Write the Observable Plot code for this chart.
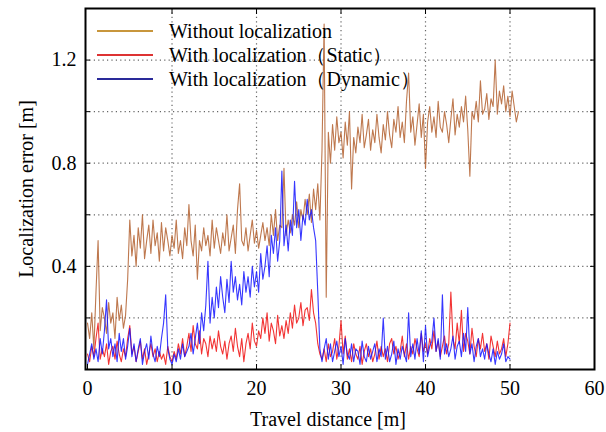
<!DOCTYPE html>
<html>
<head>
<meta charset="utf-8">
<script src="https://cdn.jsdelivr.net/npm/d3@7"></script>
<script src="https://cdn.jsdelivr.net/npm/@observablehq/plot@0.6"></script>
<style>
  html, body { margin: 0; padding: 0; background: #fff; }
  #wrap { position: relative; width: 606px; height: 432px; font-family: "Liberation Serif", "Times New Roman", serif; }
  #legend { position: absolute; left: 97px; top: 19px; font-size: 20px; color: #000; line-height: 24px; }
  #legend .row { display: flex; align-items: center; height: 24px; white-space: nowrap; }
  #legend .sw { width: 56px; height: 2px; margin-right: 16px; }
</style>
</head>
<body>
<div id="wrap"><div id="legend"></div></div>
<script>
// ---- data (step 0.25 m) ----
const step = 0.25;
const seriesNames = ["Without localization", "With localization（Static）", "With localization（Dynamic）"];
const lineColors = ["#b3602f", "#f01010", "#1414ff"];
const legendColors = ["#c8963c", "#dd3333", "#2a2a99"];

const withoutLoc = [
  .18,.12,.22,.08, .30,.50,.15,.24, .20,.14,.26,.18, .22,.12,.28,.19, .25,.16,.21,.35,
  .58,.44,.52,.40, .55,.47,.60,.43, .50,.56,.45,.58, .48,.53,.42,.57, .46,.55,.50,.44,
  .52,.47,.58,.45, .50,.43,.55,.48, .64,.50,.44,.56, .35,.50,.46,.55, .48,.52,.44,.58,
  .47,.55,.50,.45, .53,.48,.60,.46, .51,.56,.45,.62, .72,.50,.48,.55, .46,.52,.58,.49,
  .54,.47,.52,.57, .50,.55,.48,.60, .52,.62,.50,.56, .55,.78,.52,.58, .53,.60,.56,.65,
  .55,.62,.58,.66, .60,.68,.57,.70, .62,.72,.58,.85, 1.34,.28,.92,.80, .95,.85,.98,.88,
  .92,.82,.96,.87, 1.00,.70,.90,.84, .94,.88,.99,.86, .91,.97,.85,.93, .88,.99,.90,.84,
  .95,.89,1.00,.91, .86,.97,.92,1.02, .90,.96,.88,1.04, 1.15,.92,.98,.87, .95,1.03,.90,.99,
  .78,.96,1.02,.92, .98,.90,1.04,.94, .92,1.00,.95,.88, .97,1.05,.91,.99, .94,1.02,.96,1.06,
  .93,.75,1.00,.97, 1.04,.96,1.12,.99, 1.01,1.07,.97,1.05, 1.02,1.20,.99,1.08, 1.03,1.10,1.00,1.06,
  .98,1.08,1.02,.96, 1.00
];

const staticLoc = [
  .06,.03,.09,.05, .12,.18,.04,.08, .05,.10,.02,.07, .09,.04,.11,.06, .03,.08,.05,.12,
  .17,.06,.09,.03, .07,.11,.04,.08, .02,.06,.10,.05, .08,.03,.07,.04, .06,.02,.09,.05,
  .03,.07,.04,.10, .06,.12,.05,.09, .14,.07,.17,.10, .08,.15,.06,.12, .10,.05,.13,.08,
  .12,.07,.15,.09, .06,.11,.04,.10, .13,.07,.16,.09, .05,.12,.03,.10, .14,.08,.18,.11,
  .09,.15,.12,.20, .14,.22,.11,.18, .15,.10,.21,.13, .17,.12,.19,.14, .22,.16,.25,.18,
  .20,.26,.17,.23, .24,.19,.31,.22, .18,.10,.06,.04, .08,.03,.10,.05, .07,.12,.04,.09,
  .19,.06,.13,.04, .08,.03,.10,.06, .04,.09,.02,.07, .10,.05,.08,.03, .06,.11,.04,.09,
  .05,.08,.03,.10, .12,.06,.09,.04, .07,.13,.05,.10, .04,.09,.06,.12, .08,.05,.14,.07,
  .10,.06,.12,.08, .15,.07,.11,.05, .09,.13,.06,.10, .30,.12,.08,.18, .10,.23,.07,.14,
  .11,.06,.16,.09, .05,.12,.08,.14, .07,.10,.04,.13, .09,.05,.11,.06, .08,.12,.05,.10,
  .18
];

const dynamicLoc = [
  .02,.06,.10,.04, .08,.03,.12,.06, .15,.27,.08,.12, .05,.10,.03,.14, .07,.12,.04,.09,
  .16,.05,.10,.03, .08,.12,.02,.07, .10,.04,.13,.06, .03,.09,.05,.12, .18,.29,.08,.04,
  .02,.06,.03,.08, .04,.10,.05,.07, .09,.14,.06,.12, .18,.10,.22,.15, .25,.42,.18,.28,
  .20,.32,.24,.36, .28,.22,.35,.26, .42,.30,.36,.27, .33,.25,.38,.30, .36,.28,.40,.32,
  .38,.30,.45,.35, .40,.48,.36,.52, .45,.55,.42,.50, .77,.48,.56,.46, .58,.52,.73,.55,
  .62,.50,.60,.56, .66,.58,.62,.55, .50,.30,.08,.03, .08,.12,.04,.10, .03,.07,.11,.05,
  .09,.02,.12,.06, .04,.10,.03,.08, .07,.02,.11,.05, .03,.09,.04,.07, .10,.03,.08,.05,
  .20,.04,.09,.03, .06,.11,.02,.08, .04,.09,.06,.03, .22,.05,.10,.04, .12,.06,.15,.03,
  .17,.05,.09,.11, .20,.07,.12,.04, .29,.06,.10,.05, .08,.13,.04,.09, .11,.05,.14,.07,
  .24,.06,.10,.03, .09,.12,.05,.08, .04,.10,.06,.03, .08,.02,.07,.04, .06,.10,.03,.05,
  .04
];

const xTickValues = [0, 10, 20, 30, 40, 50, 60];
const xGridValues = [10, 20, 30, 40, 50];
const yGridValues = [0.2, 0.4, 0.6, 0.8, 1.0, 1.2];
const yLabelValues = [0.4, 0.8, 1.2];
const xLabel = "Travel distance [m]";
const yLabel = "Localization error [m]";

// ---- build table ----
const allSeries = [withoutLoc, staticLoc, dynamicLoc];
const rows = [];
allSeries.forEach((arr, si) => arr.forEach((v, i) => rows.push({x: i * step, y: v, s: seriesNames[si]})));

const chart = Plot.plot({
  width: 606,
  height: 432,
  marginLeft: 85,
  marginRight: 12,
  marginTop: 8,
  marginBottom: 63,
  style: {fontFamily: '"Liberation Serif", "Times New Roman", serif', fontSize: "20px", color: "#000", background: "#fff"},
  x: {domain: [-0.24, 60]},
  y: {domain: [0, 1.4]},
  marks: [
    Plot.gridX(xGridValues, {stroke: "#666", strokeOpacity: 1, strokeDasharray: "1.2,3.2", strokeWidth: 1.2}),
    Plot.gridY(yGridValues, {stroke: "#666", strokeOpacity: 1, strokeDasharray: "1.2,3.2", strokeWidth: 1.2}),
    ...seriesNames.map((name, i) =>
      Plot.line(rows.filter(d => d.s === name), {x: "x", y: "y", stroke: lineColors[i], strokeWidth: 1.1, strokeOpacity: 0.85})
    ),
    Plot.axisX(xTickValues, {tickSize: -5, tickPadding: 16, tickFormat: d => String(d), fontSize: 20, label: null}),
    Plot.axisX(xGridValues, {anchor: "top", tickSize: -5, text: null, label: null}),
    Plot.axisY(yGridValues, {tickSize: -5, text: null, label: null}),
    Plot.axisY(yGridValues, {anchor: "right", tickSize: -5, text: null, label: null}),
    Plot.axisY(yLabelValues, {tickSize: 0, tickPadding: 9, tickFormat: d => d.toFixed(1), fontSize: 20, label: null}),
    Plot.text([xLabel], {frameAnchor: "bottom", dy: 50, dx: -12, fontSize: 20, textAnchor: "middle", lineAnchor: "middle"}),
    Plot.text([yLabel], {frameAnchor: "left", dx: -59, rotate: -90, fontSize: 20, textAnchor: "middle", lineAnchor: "middle"}),
    Plot.frame({stroke: "#000", strokeWidth: 2})
  ]
});

const wrap = document.getElementById("wrap");
wrap.insertBefore(chart, wrap.firstChild);
const legend = document.getElementById("legend");
seriesNames.forEach((name, i) => {
  const row = document.createElement("div");
  row.className = "row";
  const sw = document.createElement("span");
  sw.className = "sw";
  sw.style.background = legendColors[i];
  const t = document.createElement("span");
  t.textContent = name;
  row.appendChild(sw);
  row.appendChild(t);
  legend.appendChild(row);
});
</script>
</body>
</html>
